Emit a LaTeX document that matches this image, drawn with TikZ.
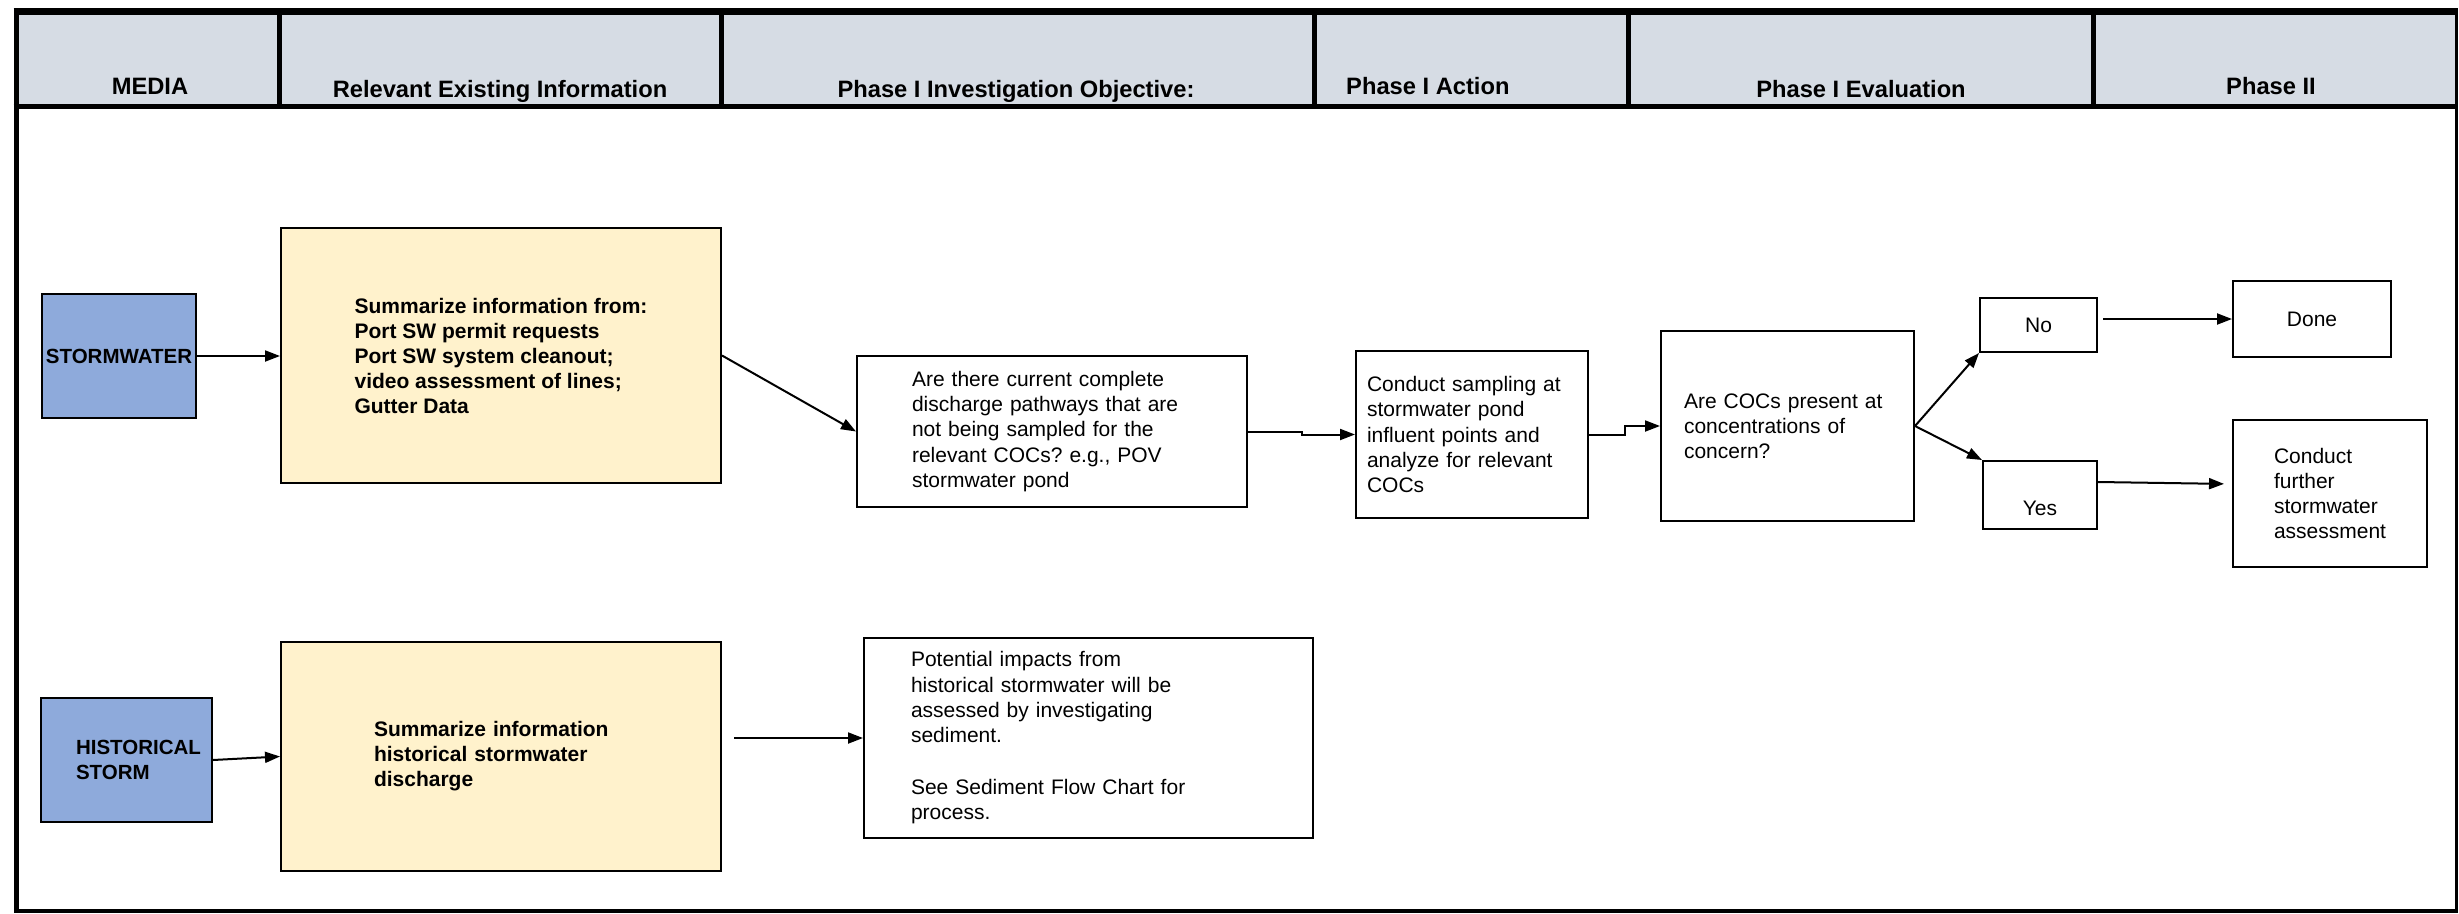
\documentclass[tikz,border=0pt]{standalone}
\usepackage{fontspec}
\setmainfont{Liberation Sans}
\usetikzlibrary{arrows.meta}
\definecolor{hdrgray}{HTML}{D6DCE4}
\definecolor{mediablue}{HTML}{8EAADB}
\definecolor{infoyellow}{HTML}{FFF2CC}
\frenchspacing

\begin{document}
\begin{tikzpicture}[
  x=1pt,y=-1pt,
  font=\fontsize{21}{25.2}\selectfont,
  hd/.style={font=\fontsize{23.7}{27}\selectfont\bfseries,anchor=base,inner sep=0pt},
  media/.style={draw,line width=2pt,fill=mediablue,inner sep=2pt,align=left,font=\fontsize{20.5}{25}\selectfont\bfseries},
  info/.style={draw,line width=2pt,fill=infoyellow,align=left,font=\fontsize{21}{25}\selectfont\bfseries},
  box/.style={draw,line width=2pt,fill=white,align=left,inner sep=0pt},
  rule/.style={line width=5pt},
  ar/.style={line width=2pt,-{Triangle[length=15pt,width=11pt]}}
]
\useasboundingbox (0,0) rectangle (2459,913);

% frame and header band
\fill[hdrgray] (16,14) rectangle (2456,104);
\draw[line width=6.5pt] (13.5,11.5) -- (2457.5,11.5);
\draw[rule] (13.5,106) -- (2457.5,106);
\draw[rule] (16,9) -- (16,913);
\draw[line width=3pt] (2456,9) -- (2456,913);
\draw[line width=4pt] (14,911) -- (2457.5,911);
\foreach \x in {279,721,1314,1628,2093}
  \draw[rule] (\x,14) -- (\x,104);

\node[hd] (hmedia) at (150,94) {MEDIA};
\node[hd] (hinfo) at (500,97) {Relevant Existing Information};
\node[hd] (hobj) at (1016,97) {Phase I Investigation Objective:};
\node[hd,anchor=base west] (hact) at (1346,94) {Phase I Action};
\node[hd] (heval) at (1861,97) {Phase I Evaluation};
\node[hd] (hph2) at (2271,94) {Phase II};

% stormwater row
\node[media,minimum width=154,minimum height=124] (sw) at (119,356) {STORMWATER};
\node[info,minimum width=440,minimum height=255] (sum1) at (501,355.5)
  {Summarize information from:\\Port SW permit requests\\Port SW system cleanout;\\video assessment of lines;\\Gutter Data};
\node[box,minimum width=390,minimum height=151,text width=280] (q) at (1052,431.5)
  {Are there current complete\\discharge pathways that are\\not being sampled for the\\relevant COCs? e.g., POV\\stormwater pond};
\node[box,minimum width=232,minimum height=167,text width=210] (act) at (1472,434.5)
  {Conduct sampling at\\stormwater pond\\influent points and\\analyze for relevant\\COCs};
\node[box,minimum width=253,minimum height=190,text width=207] (ev) at (1787.5,426)
  {Are COCs present at\\concentrations of\\concern?};
\node[box,minimum width=117,minimum height=54] (no) at (2038.5,325) {No};
\node[box,minimum width=114,minimum height=68,text height=40pt,text depth=0pt] (yes) at (2040,495) {Yes};
\node[box,minimum width=158,minimum height=76] (done) at (2312,319) {Done};
\node[box,minimum width=194,minimum height=147] (further) at (2330,493.5)
  {Conduct\\further\\stormwater\\assessment};

% historical row
\node[media,minimum width=171,minimum height=124,text width=101] (hist) at (126.5,760)
  {\mbox{HISTORICAL}\\STORM};
\node[info,minimum width=440,minimum height=229,text width=254] (sum2) at (501,756.5)
  {Summarize information\\historical stormwater\\discharge};
\node[box,minimum width=449,minimum height=200,text width=355] (pot) at (1088.5,738)
  {Potential impacts from\\historical stormwater will be\\assessed by investigating\\sediment.\\[27pt]See Sediment Flow Chart for\\process.};

% connectors
\draw[ar] (sw.east) -- (sum1.west |- sw.east);
\draw[ar] (sum1.east) -- (q.west);
\draw[ar] (q.east) -- ++(54,0) |- (act.west);
\draw[ar] (act.east) -- ++(36,0) |- (ev.west);
\draw[ar] (ev.east) -- (no.south west);
\draw[ar] (ev.east) -- (yes.north west);
\draw[ar,shorten <=5pt] (no.east |- done.west) -- (done.west);
\draw[ar,shorten >=8pt] ([yshift=13pt]yes.east) -- ([yshift=9.5pt]further.west);
\draw[ar] (hist.east) -- (sum2.west);
\draw[ar,shorten <=12pt] (sum2.east |- pot.west) -- (pot.west);
\end{tikzpicture}
\end{document}
